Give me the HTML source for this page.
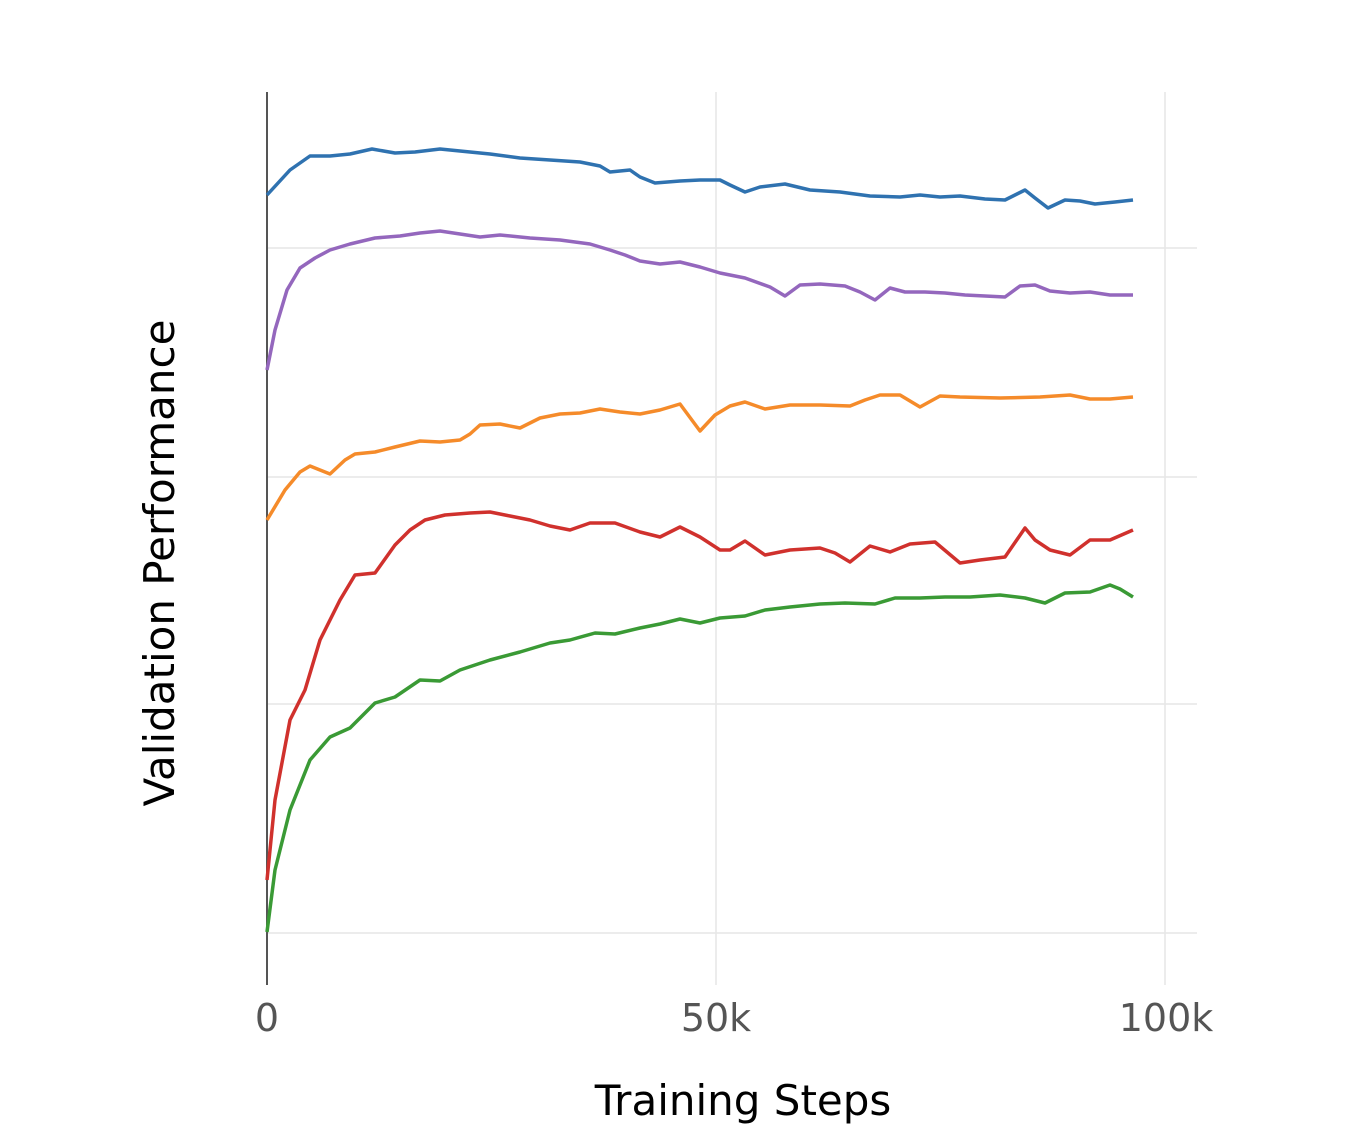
<!DOCTYPE html>
<html><head><meta charset="utf-8"><style>
html,body{margin:0;padding:0;background:#fff;width:1370px;height:1144px;overflow:hidden}
</style></head><body>
<svg width="1370" height="1144" viewBox="0 0 1370 1144" xmlns="http://www.w3.org/2000/svg">
<g stroke="#e6e6e6" stroke-width="1.5">
<line x1="267" y1="248" x2="1197" y2="248"/>
<line x1="267" y1="477" x2="1197" y2="477"/>
<line x1="267" y1="704" x2="1197" y2="704"/>
<line x1="267" y1="933" x2="1197" y2="933"/>
<line x1="716" y1="92" x2="716" y2="985"/>
<line x1="1165" y1="92" x2="1165" y2="985"/>
</g>
<line x1="267" y1="92" x2="267" y2="985" stroke="#555" stroke-width="2"/>
<g fill="none" stroke-width="3.5" stroke-linejoin="round">
<polyline stroke="#2f72b0" points="267,195 290,170 310,156 330,156 350,154 372,149 395,153 415,152 440,149 460,151 490,154 520,158 550,160 580,162 600,166 610,172 630,170 640,177 655,183 680,181 700,180 720,180 730,185 745,192 760,187 785,184 810,190 840,192 870,196 900,197 920,195 940,197 960,196 985,199 1005,200 1025,190 1035,198 1048,208 1065,200 1080,201 1095,204 1115,202 1133,200"/>
<polyline stroke="#9467bd" points="267,370 275,330 287,290 300,268 315,258 330,250 350,244 375,238 400,236 420,233 440,231 460,234 480,237 500,235 530,238 560,240 590,244 610,250 625,255 640,261 660,264 680,262 700,267 720,273 745,278 770,287 785,296 800,285 820,284 845,286 860,292 875,300 890,288 905,292 925,292 945,293 965,295 985,296 1005,297 1020,286 1035,285 1050,291 1070,293 1090,292 1110,295 1133,295"/>
<polyline stroke="#f58b2a" points="267,520 285,490 300,472 310,466 330,474 345,460 355,454 375,452 395,447 420,441 440,442 460,440 470,434 480,425 500,424 520,428 540,418 560,414 580,413 600,409 620,412 640,414 660,410 680,404 700,431 715,415 730,406 745,402 765,409 790,405 820,405 850,406 865,400 880,395 900,395 920,407 940,396 960,397 1000,398 1040,397 1070,395 1090,399 1110,399 1133,397"/>
<polyline stroke="#d0312d" points="267,880 275,800 290,720 305,690 320,640 340,600 355,575 375,573 395,545 410,530 425,520 445,515 470,513 490,512 510,516 530,520 550,526 570,530 590,523 615,523 640,532 660,537 680,527 700,537 720,550 730,550 745,541 765,555 790,550 820,548 835,553 850,562 870,546 890,552 910,544 935,542 960,563 980,560 1005,557 1025,528 1035,540 1050,550 1070,555 1090,540 1110,540 1133,530"/>
<polyline stroke="#3a9a35" points="267,932 275,870 290,810 310,760 330,737 350,728 375,703 395,697 420,680 440,681 460,670 490,660 520,652 550,643 570,640 595,633 615,634 640,628 660,624 680,619 700,623 720,618 745,616 765,610 790,607 820,604 845,603 875,604 895,598 920,598 945,597 970,597 1000,595 1025,598 1045,603 1065,593 1090,592 1110,585 1120,589 1133,597"/>
</g>
<g font-family="'DejaVu Sans', 'Liberation Sans', sans-serif" font-size="38" fill="#555" text-anchor="middle">
<text x="267" y="1031">0</text>
<text x="716" y="1031">50k</text>
<text x="1166" y="1031">100k</text>
</g>
<text x="743" y="1115" font-family="'DejaVu Sans', 'Liberation Sans', sans-serif" font-size="42" fill="#000" text-anchor="middle">Training Steps</text>
<text transform="translate(174,563) rotate(-90)" font-family="'DejaVu Sans', 'Liberation Sans', sans-serif" font-size="42" fill="#000" text-anchor="middle">Validation Performance</text>
</svg>
</body></html>
